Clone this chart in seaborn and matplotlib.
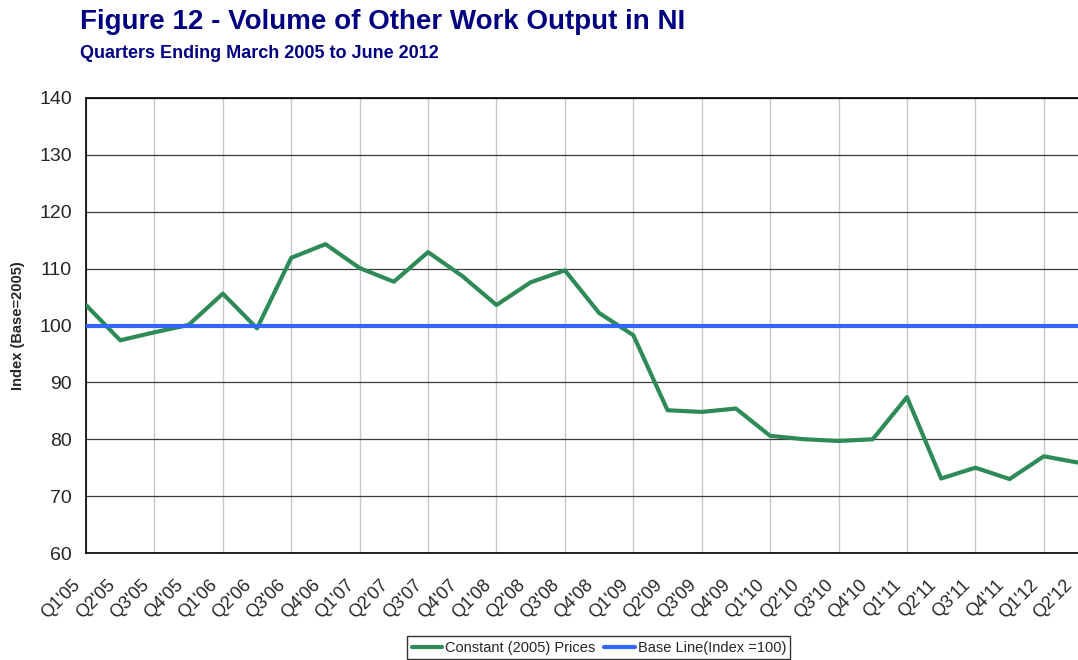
import pandas as pd
import matplotlib.pyplot as plt
import matplotlib.transforms as mtransforms
import seaborn as sns

# quarters Q1'05 .. Q2'12
quarters = ["Q1'05", "Q2'05", "Q3'05", "Q4'05",
            "Q1'06", "Q2'06", "Q3'06", "Q4'06",
            "Q1'07", "Q2'07", "Q3'07", "Q4'07",
            "Q1'08", "Q2'08", "Q3'08", "Q4'08",
            "Q1'09", "Q2'09", "Q3'09", "Q4'09",
            "Q1'10", "Q2'10", "Q3'10", "Q4'10",
            "Q1'11", "Q2'11", "Q3'11", "Q4'11",
            "Q1'12", "Q2'12"]

# index values
constant_prices = [103.6, 97.4, 98.8, 100.1, 105.6, 99.5, 111.9, 114.3,
                   110.1, 107.7, 112.9, 108.7, 103.6, 107.6, 109.7, 102.2,
                   98.3, 85.1, 84.8, 85.4, 80.6, 80.0, 79.7, 80.0,
                   87.4, 73.1, 75.0, 73.0, 77.0, 75.9]
base_line = [100] * len(quarters)

df = pd.DataFrame({
    "pos": range(len(quarters)),
    "quarter": quarters,
    "constant": constant_prices,
    "base": base_line,
})

sns.set_style("white")
plt.rcParams['font.family'] = ['Liberation Sans', 'DejaVu Sans']

fig = plt.figure(figsize=(10.78, 6.6), dpi=100)
ax = fig.add_axes([86 / 1078, 1 - 553 / 660, 1 - 86 / 1078, (553 - 98) / 660])

sns.lineplot(data=df, x="pos", y="constant", ax=ax, color="#2e8b57",
             linewidth=3, label="Constant (2005) Prices", zorder=3)
sns.lineplot(data=df, x="pos", y="base", ax=ax, color="#3366ff",
             linewidth=3, label="Base Line(Index =100)", zorder=3)

ax.set_xlim(0, len(quarters) - 1)
ax.set_ylim(60, 140)
ax.set_yticks(range(60, 141, 10))

# labels on every quarter, grid + tick marks every second quarter
ax.xaxis.remove_overlapping_locs = False
ax.set_xticks(df["pos"])
ax.set_xticklabels(quarters, rotation=45, ha="right", rotation_mode="anchor")
ax.set_xticks(df["pos"][::2], minor=True)
ax.tick_params(axis="x", which="major", length=0, pad=14, labelsize=13)
ax.tick_params(axis="x", which="minor", length=5, width=1, color="black",
               direction="in")
ax.tick_params(axis="y", length=0, pad=10, labelsize=14)

# nudge the rotated labels left so their ends sit under the ticks
shift = mtransforms.ScaledTranslation(-14 / 100, -4 / 100, fig.dpi_scale_trans)
for lbl in ax.get_xticklabels():
    lbl.set_transform(lbl.get_transform() + shift)

ax.grid(axis="y", which="major", color="#3a3a3a", linewidth=0.9)
ax.grid(axis="x", which="minor", color="#c8c8c8", linewidth=1.0)
ax.grid(axis="x", which="major", visible=False)
ax.set_axisbelow(True)

for side in ["left", "bottom", "top"]:
    ax.spines[side].set_color("black")
    ax.spines[side].set_linewidth(1.2)
ax.spines["right"].set_visible(False)

ax.set_xlabel("")
ax.set_ylabel("Index (Base=2005)", fontsize=10.5, fontweight="bold", labelpad=10)

fig.text(80 / 1078, 1 - 22 / 660, "Figure 12 - Volume of Other Work Output in NI",
         fontsize=20, fontweight="bold", color="#000080", va="center")
fig.text(80 / 1078, 1 - 54 / 660, "Quarters Ending March 2005 to June 2012",
         fontsize=13, fontweight="bold", color="#000080", va="center")

leg = ax.legend(loc="upper center", bbox_to_anchor=(0.517, -0.167), ncol=2,
                frameon=True, fancybox=False, edgecolor="black", fontsize=10.5,
                handlelength=2.1, columnspacing=0.6, handletextpad=0.2,
                borderpad=0.3)
leg.get_frame().set_linewidth(1.0)

fig.savefig("out.png", dpi=100)
